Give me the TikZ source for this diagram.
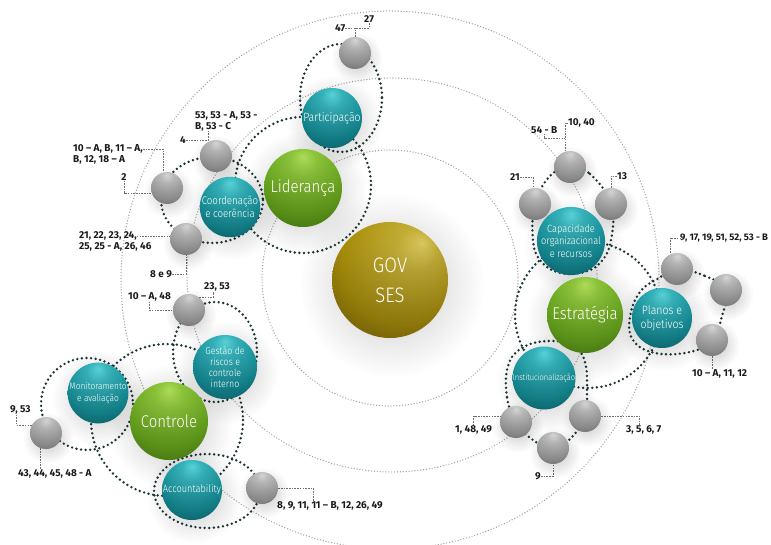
\documentclass[tikz,border=0pt]{standalone}
\usepackage{fontspec}
\setmainfont{Fira Sans}
\newfontfamily\spherefont{Fira Sans Light}[FakeStretch=0.88]
\usetikzlibrary{fadings}

% palette
\definecolor{tealhi}{HTML}{5AD6DC}
\definecolor{tealmid}{HTML}{1696A0}
\definecolor{tealdk}{HTML}{0A636D}
\definecolor{greenhi}{HTML}{B2E05A}
\definecolor{greenmid}{HTML}{6CAE1E}
\definecolor{greendk}{HTML}{447C0E}
\definecolor{goldhi}{HTML}{E0CE62}
\definecolor{goldmid}{HTML}{AD930C}
\definecolor{golddk}{HTML}{725C04}
\definecolor{greyhi}{HTML}{DADADA}
\definecolor{greymid}{HTML}{A8A8A8}
\definecolor{greydk}{HTML}{858585}
\definecolor{clusterdot}{HTML}{1B3537}
\definecolor{ringdot}{HTML}{A2A2A2}
\definecolor{leadgray}{HTML}{707070}
\definecolor{labelink}{HTML}{1A1A1A}

% sphere shadings (100bp box, rim at 50bp)
\pgfdeclareradialshading{tealshade}{\pgfpoint{0bp}{20bp}}{%
  color(0bp)=(tealhi); color(9bp)=(tealhi!50!tealmid); color(27bp)=(tealmid);
  color(44bp)=(tealdk); color(50bp)=(tealdk)}
\pgfdeclareradialshading{greenshade}{\pgfpoint{0bp}{20bp}}{%
  color(0bp)=(greenhi); color(9bp)=(greenhi!50!greenmid); color(27bp)=(greenmid);
  color(44bp)=(greendk); color(50bp)=(greendk)}
\pgfdeclareradialshading{goldshade}{\pgfpoint{14bp}{16bp}}{%
  color(0bp)=(goldhi); color(9bp)=(goldhi!50!goldmid); color(27bp)=(goldmid);
  color(44bp)=(golddk); color(50bp)=(golddk)}
\pgfdeclareradialshading{greyshade}{\pgfpoint{0bp}{20bp}}{%
  color(0bp)=(greyhi); color(9bp)=(greyhi!50!greymid); color(27bp)=(greymid);
  color(44bp)=(greydk); color(50bp)=(greydk)}

\tikzfading[name=softshadow, inner color=transparent!20, outer color=transparent!100]

\pgfdeclarelayer{rings}
\pgfdeclarelayer{shadows}
\pgfsetlayers{rings,shadows,main}

\begin{document}
\begin{tikzpicture}[x=1pt, y=-1pt,
  sphere/.style={circle, inner sep=0pt, minimum size=#1pt, text=white, align=center,
    postaction={fill=black, fill opacity=0.22, path fading=north}},
  tealball/.style={shade, shading=tealshade},
  greenball/.style={shade, shading=greenshade},
  goldball/.style={shade, shading=goldshade},
  greyball/.style={sphere=32, shade, shading=greyshade},
  ring/.style={draw=ringdot, line width=1.4pt, dash pattern=on 0pt off 2.9pt, line cap=round},
  cluster/.style={draw=clusterdot, line width=2.7pt, dash pattern=on 0pt off 4.6pt, line cap=round},
  leader/.style={draw=leadgray, line width=0.6pt, dash pattern=on 1.6pt off 1.1pt},
  numlabel/.style={font=\bfseries\fontsize{10}{11}\selectfont, text=labelink, inner sep=0pt, align=left},
]
\useasboundingbox (0,0) rectangle (771,545);

% ---------- spheres ----------
\node[sphere=116, goldball, font=\spherefont\fontsize{21}{30}\selectfont] (gov) at (390,280) {GOV\\SES};

\node[sphere=78, greenball, font=\spherefont\fontsize{17}{20}\selectfont] (lid) at (303,188) {Liderança};
\node[sphere=76, greenball, font=\spherefont\fontsize{17}{20}\selectfont] (est) at (585,315) {Estratégia};
\node[sphere=78, greenball, font=\spherefont\fontsize{17}{20}\selectfont] (ctl) at (169,421) {Controle};

\node[sphere=60, tealball, font=\spherefont\fontsize{12}{14}\selectfont] (part) at (332,118) {Participação};
\node[sphere=60, tealball, font=\spherefont\fontsize{11}{13.5}\selectfont] (coord) at (230,207) {Coordenação\\e coerência};
\node[sphere=64, tealball, font=\spherefont\fontsize{10}{11}\selectfont] (gest) at (225,367) {Gestão de\\riscos e\\controle\\interno};
\node[sphere=60, tealball, font=\spherefont\fontsize{9.5}{11.7}\selectfont] (mon) at (98,393) {Monitoramento\\e avaliação};
\node[sphere=60, tealball, font=\spherefont\fontsize{10.5}{12}\selectfont] (acc) at (192,490) {Accountability};
\node[sphere=62, tealball, font=\spherefont\fontsize{10.5}{12.7}\selectfont] (cap) at (571,241) {Capacidade\\organizacional\\e recursos};
\node[sphere=60, tealball, font=\spherefont\fontsize{12}{14}\selectfont] (plan) at (662,318) {Planos e\\objetivos};
\node[sphere=62, tealball, font=\spherefont\fontsize{8.5}{10}\selectfont] (inst) at (544,378) {Institucionalização};

\node[greyball] (g47) at (355,53) {};
\node[greyball] (g4) at (216,156) {};
\node[greyball] (g2) at (167,188) {};
\node[greyball] (g21) at (186,239) {};
\node[greyball] (g10) at (189,310) {};
\node[greyball] (g953) at (46,433) {};
\node[greyball] (g8) at (262,488) {};
\node[greyball] (gtop) at (570,167) {};
\node[greyball] (g21r) at (535,204) {};
\node[greyball] (g13) at (611,204) {};
\node[greyball] (g9p) at (677,269) {};
\node[greyball] (gp2) at (726,290) {};
\node[greyball] (gp3) at (712,340) {};
\node[greyball] (ga) at (516,422) {};
\node[greyball] (gb) at (585,416) {};
\node[greyball] (gc) at (553,448) {};

% ---------- reference labels ----------
\node[numlabel, anchor=west] (l47) at (335,28) {47};
\node[numlabel, anchor=west] (l27) at (364,19) {27};
\node[numlabel, anchor=north west] (l53) at (195,111) {53, 53 - A, 53 -\\B, 53 - C};
\node[numlabel, anchor=west] (l4) at (180,140) {4};
\node[numlabel, anchor=north west] (l10) at (73,144) {10 – A, B, 11 – A,\\B, 12, 18 – A};
\node[numlabel] (l2) at (124,177) {2};
\node[numlabel, anchor=west] (l21a) at (79,236) {21, 22, 23, 24,};
\node[numlabel, anchor=west] (l21b) at (79,247) {25, 25 - A, 26, 46};
\node[numlabel, anchor=west] (l89) at (150,274) {8 e 9};
\node[numlabel, anchor=west] (l1048) at (128,297) {10 – A, 48};
\node[numlabel, anchor=west] (l2353) at (204,287) {23, 53};
\node[numlabel, anchor=west] (l953) at (10,410) {9, 53};
\node[numlabel, anchor=west] (l43) at (18,474) {43, 44, 45, 48 - A};
\node[numlabel, anchor=west] (l8911) at (277,506) {8, 9, 11, 11 – B, 12, 26, 49};
\node[numlabel, anchor=west] (l54) at (531,130) {54 - B};
\node[numlabel, anchor=west] (l1040) at (568,123) {10, 40};
\node[numlabel, anchor=west] (l21r) at (510,177) {21};
\node[numlabel, anchor=west] (l13) at (617,176) {13};
\node[numlabel, anchor=west, font=\bfseries\fontsize{9.5}{11}\selectfont] (l917) at (680,238) {9, 17, 19, 51, 52, 53 - B};
\node[numlabel, anchor=west] (l1011) at (692,374) {10 – A, 11, 12};
\node[numlabel, anchor=west] (l148) at (455,430) {1, 48, 49};
\node[numlabel, anchor=west] (l3567) at (626,430) {3, 5, 6, 7};
\node[numlabel, anchor=west] (l9) at (535,476) {9};

\coordinate (j54) at (565,138);

% ---------- rings, cluster loops and leaders ----------
\begin{pgfonlayer}{rings}
  \fill[white] (0,0) rectangle (771,545);
  \draw[ring] (390,278) circle [radius=128];
  \draw[ring] (392,275) ellipse [x radius=205, y radius=197];
  \draw[ring] (390,280) circle [radius=269];

  \draw[cluster] (341,98) ellipse [x radius=41, y radius=54];
  \draw[cluster] (303,185) circle [radius=68];
  \draw[cluster] (212,200) ellipse [x radius=51, y radius=43];
  \draw[cluster] (215,352) ellipse [x radius=42, y radius=50];
  \draw[cluster] (167,420) circle [radius=76];
  \draw[cluster] (87,404) circle [radius=46];
  \draw[cluster] (207,491) ellipse [x radius=53, y radius=37];
  \draw[cluster] plot[smooth cycle, tension=0.7] coordinates {(570,167) (590,174) (611,204) (611,240) (600,263) (580,273) (557,272) (540,260) (533,240) (535,204) (550,176)};
  \draw[cluster] (588,315) circle [radius=73];
  \draw[cluster] plot[smooth cycle, tension=0.7] coordinates {(677,269) (705,276) (726,290) (722,316) (712,340) (690,352) (655,353) (633,340) (630,317) (640,292) (659,278)};
  \draw[cluster] plot[smooth cycle, tension=0.7] coordinates {(516,422) (507,397) (508,366) (522,348) (548,341) (573,346) (585,362) (587,393) (585,416) (571,438) (553,448) (533,440)};

  \draw[leader] (g47.north) -- (g47.north |- l47.east);
  \draw[leader] (l47.east) -| (l27.south);
  \draw[leader] (l4.east) -| ([xshift=-8pt]g4.north |- l53.south);
  \draw[leader] ([yshift=-5pt]l10.north east) -| ([xshift=-4pt]g2.north);
  \draw[leader] (l2.south) |- ([yshift=-5pt]g2.west);
  \draw[leader] (l21a.east) -- (l21a.east -| g21.west);
  \draw[leader] (l89.east) -| (g21.south);
  \draw[leader] (l1048.south) |- (g10.west);
  \draw[leader] (g10.50) -| ([xshift=-4pt]l2353.south);
  \draw[leader] ([xshift=-4pt]l953.south) |- (g953.150);
  \draw[leader] (g953.250) -- (g953.250 |- l43.north);
  \draw[leader] (g8.east) -| ([xshift=36pt]l8911.north west);
  \draw[leader] (l1040.west) -| ([xshift=-5pt]gtop.north);
  \draw[leader] (l54.south) |- (j54);
  \draw[leader] (l21r.east) -| ([xshift=-2pt]g21r.north);
  \draw[leader] (g13.north) |- (l13.west);
  \draw[leader] ([xshift=-7pt]g9p.north) |- (l917.west);
  \draw[leader] (gp3.south) -- (gp3.south |- l1011.north);
  \draw[leader] (l148.north) |- (ga.160);
  \draw[leader] (gb.east) -| ([xshift=-4pt]l3567.north);
  \draw[leader] (l9.east) -| (gc.south);
\end{pgfonlayer}

% ---------- soft shadows under the spheres ----------
\begin{pgfonlayer}{shadows}
  \foreach \n/\r in {gov/58, lid/39, est/38, ctl/39, part/30, coord/30, gest/32, mon/30,
      acc/30, cap/31, plan/30, inst/31, g47/16, g4/16, g2/16, g21/16, g10/16, g953/16,
      g8/16, gtop/16, g21r/16, g13/16, g9p/16, gp2/16, gp3/16, ga/16, gb/16, gc/16}
    \fill[black, opacity=0.28, path fading=softshadow] ([shift={(2,5)}]\n.center) circle [radius={1.6*\r}];
\end{pgfonlayer}
\end{tikzpicture}
\end{document}
